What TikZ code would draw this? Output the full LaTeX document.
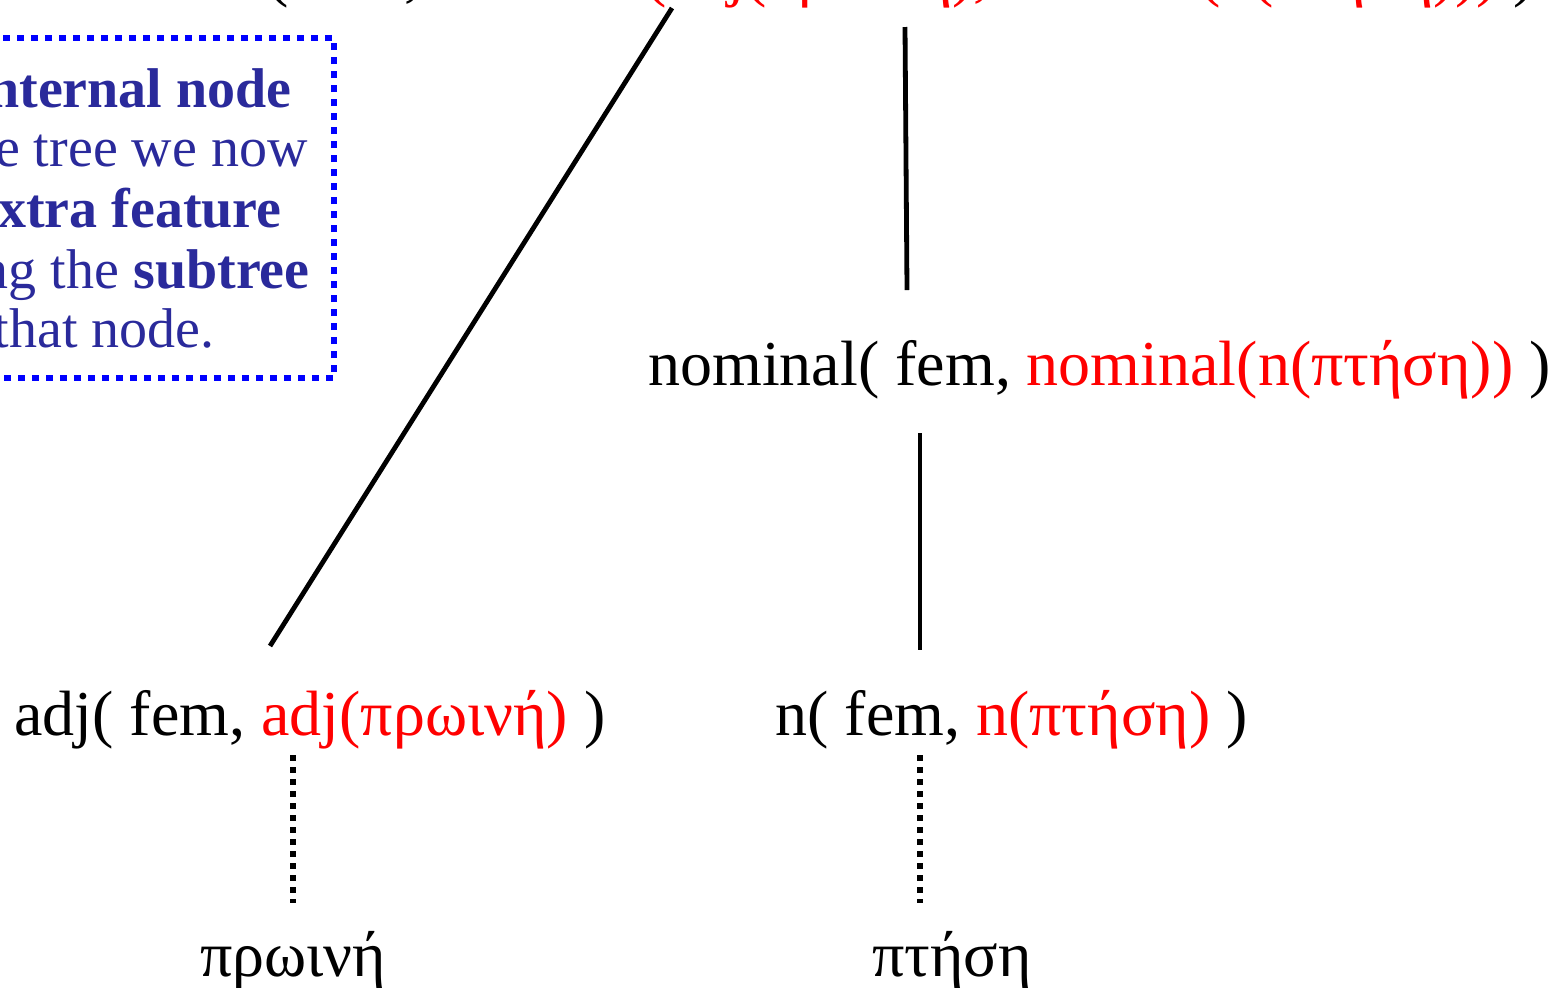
\documentclass[tikz,border=0pt]{standalone}
\usepackage{fontspec}
\setmainfont{Liberation Serif}
\definecolor{featred}{RGB}{255,0,0}
\definecolor{notetext}{RGB}{42,42,155}
\definecolor{noteedge}{RGB}{0,0,255}
\newcommand{\feat}[1]{\textcolor{featred}{#1}}
\tikzset{
  treelabel/.style={inner sep=0pt,anchor=base west,font=\fontsize{32}{38}\selectfont},
  notelabel/.style={inner sep=0pt,anchor=base east,text=notetext,font=\fontsize{28}{30}\selectfont},
  branch/.style={line width=2.4pt},
  leafline/.style={line width=2.8pt,dash pattern=on 3pt off 3pt},
  notebox/.style={draw=noteedge,line width=3.2pt,dash pattern=on 3.5pt off 3.5pt}
}
\begin{document}
\begin{tikzpicture}[x=0.5pt,y=-0.5pt]
\clip (0,0) rectangle (1561,987);

% the note, cut off on the left
\draw[notebox] (-20,38) rectangle (334,378);
\node[notelabel] (note1) at (292,107) {\bfseries internal node};
\node[notelabel] (note2) at (308,166) {the tree we now};
\node[notelabel] (note3) at (282,227) {\bfseries extra feature};
\node[notelabel] (note4) at (310,288) {representing the \textbf{subtree}};
\node[notelabel] (note5) at (215,347) {that node.};

% tree nodes
\node[treelabel] (root) at (57,-6) {nominal( fem, \feat{nominal(adj(πρωινή),nominal(n(πτήση)))} )};
\node[treelabel] (nom) at (648,385) {nominal( fem, \feat{nominal(n(πτήση))} )};
\node[treelabel] (adj) at (14,735) {adj( fem, \feat{adj(πρωινή)} )};
\node[treelabel] (noun) at (775,735) {n( fem, \feat{n(πτήση)} )};
\node[treelabel] (adjword) at (200,976) {πρωινή};
\node[treelabel] (nounword) at (872,976) {πτήση};

% where the branches meet the labels
\coordinate (root-l) at (672,8);   \coordinate (adj-t) at (270,646);
\coordinate (root-r) at (905,27);  \coordinate (nom-t) at (907,290);
\coordinate (nom-b) at (920,433);  \coordinate (noun-t) at (920,650);
\coordinate (adj-b) at (293,755);  \coordinate (adjword-t) at (293,903);
\coordinate (noun-b) at (920,755); \coordinate (nounword-t) at (920,903);

\draw[branch] (root-l) -- (adj-t);
\draw[branch] (root-r) -- (nom-t);
\draw[branch] (nom-b) -- (noun-t);
\foreach \a/\b in {adj-b/adjword-t,noun-b/nounword-t}
  \draw[leafline] (\a) -- (\b);
\end{tikzpicture}
\end{document}
